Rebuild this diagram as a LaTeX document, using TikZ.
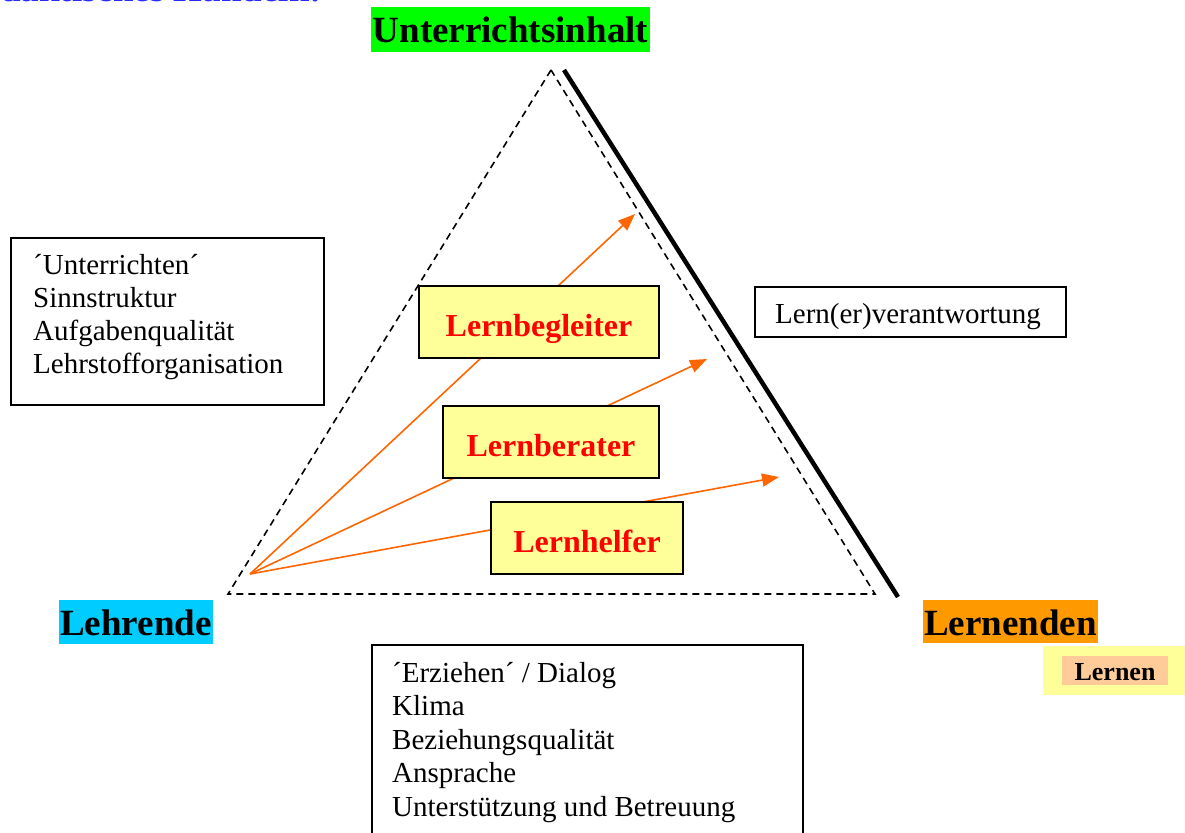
\documentclass[tikz,border=0pt]{standalone}
\usepackage{fontspec}
\setmainfont{Liberation Serif}
\usetikzlibrary{arrows.meta}
\definecolor{lgreen}{HTML}{00FF00}
\definecolor{lcyan}{HTML}{00CCFF}
\definecolor{lorange}{HTML}{FF9900}
\definecolor{lyellow}{HTML}{FFFF99}
\definecolor{lpeach}{HTML}{FFCC99}
\definecolor{arrorange}{HTML}{FF6600}
\definecolor{titleblue}{HTML}{2B2BFF}
\begin{document}
\begin{tikzpicture}[x=1pt,y=-1pt,
  bigfont/.style={font=\fontsize{37}{40}\selectfont\bfseries},
  biglabel/.style={bigfont, inner sep=0pt, text height=27pt, text depth=0pt},
  rolebox/.style={draw=black, line width=1.6pt, fill=lyellow, text=red, inner sep=0pt,
    font=\fontsize{32}{36}\selectfont\bfseries, text height=28pt, text depth=0pt},
  plainbox/.style={draw=black, line width=1.4pt, fill=white, inner sep=0pt},
  plaintext/.style={font=\fontsize{29}{33}\selectfont, inner sep=0pt, anchor=base west},
  tri/.style={dashed, dash pattern=on 7pt off 5pt, line width=1.6pt},
  arr/.style={draw=arrorange, line width=1.6pt, -{Triangle[length=17pt,width=13pt]}}
]
\useasboundingbox (0,0) rectangle (1185,832);
\clip (0,0) rectangle (1185,832);

% cut-off title
\node[bigfont, text=titleblue, inner sep=0pt, anchor=base west] (title) at (-37,2) {Didaktisches Handeln:};

% triangle
\coordinate (A) at (551,70);
\coordinate (B) at (228,594);
\coordinate (C) at (875,594);
\draw[tri] (A) -- (B) -- (C) -- cycle;
\coordinate (T1) at (564,70);
\coordinate (T2) at (898,597);
\draw[line width=4.5pt] (T1) -- (T2);

% arrows
\coordinate (S) at (250,574);
\coordinate (E1) at (635,214);
\coordinate (E2) at (707,359);
\coordinate (E3) at (779,477);
\draw[arr] (S) -- (E1);
\draw[arr] (S) -- (E2);
\draw[arr] (S) -- (E3);

% role boxes
\node[rolebox, minimum width=240pt, minimum height=72pt] (begl) at (539,322) {Lernbegleiter};
\node[rolebox, minimum width=216pt, minimum height=72pt] (bera) at (551,442) {Lernberater};
\node[rolebox, minimum width=192pt, minimum height=72pt] (helf) at (587,538) {Lernhelfer};

% corner labels
\node[biglabel, fill=lgreen, minimum width=279pt, minimum height=45pt] (inhalt) at (510.5,29.5) {Unterrichtsinhalt};
\node[biglabel, fill=lcyan, minimum width=154pt, minimum height=44pt] (lehr) at (136,622) {Lehrende};
\node[biglabel, fill=lorange, minimum width=175pt, minimum height=43pt] (lernd) at (1010.5,621.5) {Lernenden};

% Lernen
\node[fill=lyellow, inner sep=0pt, minimum width=142pt, minimum height=49pt] (lernout) at (1114,670.5) {};
\node[fill=lpeach, inner sep=0pt, minimum width=106pt, minimum height=29pt,
  font=\fontsize{26}{28}\selectfont\bfseries, text height=19pt, text depth=0pt] (lernin) at (1115,670.5) {Lernen};

% left box
\node[plainbox, minimum width=313pt, minimum height=167pt] (lbox) at (167.5,321.5) {};
\node[plaintext] (l1) at (33,274) {´Unterrichten´};
\node[plaintext] (l2) at (33,307) {Sinnstruktur};
\node[plaintext] (l3) at (33,340) {Aufgabenqualität};
\node[plaintext] (l4) at (33,373) {Lehrstofforganisation};

% right box
\node[plainbox, minimum width=311pt, minimum height=50pt] (rbox) at (910.5,312) {};
\node[plaintext] (r1) at (775,323) {Lern(er)verantwortung};

% bottom box
\node[plainbox, minimum width=431pt, minimum height=200pt] (bbox) at (587.5,745) {};
\node[plaintext] (b1) at (392,682) {´Erziehen´ / Dialog};
\node[plaintext] (b2) at (392,715.5) {Klima};
\node[plaintext] (b3) at (392,749) {Beziehungsqualität};
\node[plaintext] (b4) at (392,782.5) {Ansprache};
\node[plaintext] (b5) at (392,816) {Unterstützung und Betreuung};
\end{tikzpicture}
\end{document}
